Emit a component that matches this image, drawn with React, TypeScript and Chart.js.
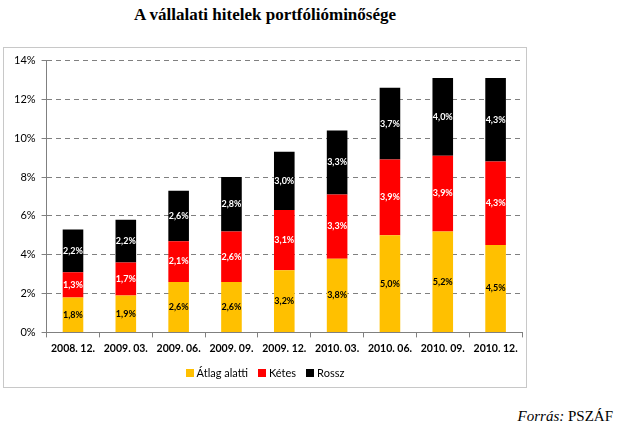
import React, { useEffect, useRef } from "react";
import { Chart, registerables } from "chart.js";

Chart.register(...registerables);

const categories = ["2008. 12.", "2009. 03.", "2009. 06.", "2009. 09.", "2009. 12.", "2010. 03.", "2010. 06.", "2010. 09.", "2010. 12."];
const atlagAlatti = [1.8, 1.9, 2.6, 2.6, 3.2, 3.8, 5.0, 5.2, 4.5];
const ketes = [1.3, 1.7, 2.1, 2.6, 3.1, 3.3, 3.9, 3.9, 4.3];
const rossz = [2.2, 2.2, 2.6, 2.8, 3.0, 3.3, 3.7, 4.0, 4.3];
const seriesNames = ["Átlag alatti", "Kétes", "Rossz"];
const seriesColors = ["#FFC000", "#FF0000", "#000000"];
const labelColors = ["#000000", "#FFFFFF", "#FFFFFF"];

const FONT = "Lato, 'Liberation Sans', sans-serif";

const segLabels = {
  id: "segLabels",
  afterDatasetsDraw(chart: any) {
    const ctx = chart.ctx;
    chart.data.datasets.forEach((ds: any, i: number) => {
      const meta = chart.getDatasetMeta(i);
      meta.data.forEach((el: any, j: number) => {
        const v = ds.data[j];
        const p = el.getProps(["x", "y", "base"], true);
        ctx.save();
        ctx.fillStyle = labelColors[i];
        ctx.font = `bold 9px ${FONT}`;
        ctx.textAlign = "center";
        ctx.textBaseline = "middle";
        ctx.fillText(v.toFixed(1).replace(".", ",") + "%", p.x, (p.y + p.base) / 2);
        ctx.restore();
      });
    });
  },
};

export default function App() {
  const ref = useRef<HTMLCanvasElement>(null);
  useEffect(() => {
    if (!ref.current) return;
    const chart = new Chart(ref.current, {
      type: "bar",
      data: {
        labels: categories,
        datasets: [atlagAlatti, ketes, rossz].map((d, i) => ({
          label: seriesNames[i],
          data: d,
          backgroundColor: seriesColors[i],
          borderWidth: 0,
          categoryPercentage: 1,
          barPercentage: 0.39,
        })),
      },
      options: {
        animation: false,
        responsive: false,
        maintainAspectRatio: false,
        layout: { padding: { left: 4, right: 4, top: 5, bottom: 27 } },
        plugins: {
          title: { display: false },
          tooltip: { enabled: false },
          legend: { display: false },
        },
        scales: {
          x: {
            stacked: true,
            grid: { display: true, drawOnChartArea: false, offset: true, color: "#808080", tickLength: 5 },
            border: { display: true, color: "#808080" },
            ticks: { color: "#000", font: { family: FONT, size: 10.5, weight: "bold" }, padding: 5, maxRotation: 0 },
          },
          y: {
            stacked: true,
            min: 0,
            max: 14,
            ticks: {
              stepSize: 2,
              color: "#000",
              font: { family: FONT, size: 11 },
              padding: 6,
              callback: (v: any) => v + "%",
            },
            grid: { color: "#808080", tickLength: 5 },
            border: { display: true, color: "#808080", dash: [5, 4] },
          },
        },
      },
      plugins: [segLabels],
    });
    return () => chart.destroy();
  }, []);

  return (
    <div style={{ position: "fixed", left: 0, top: 0, width: 620, height: 432, background: "#fff" }}>
      <div
        style={{
          position: "absolute",
          left: 0,
          top: 5,
          width: 530,
          textAlign: "center",
          fontFamily: "'Liberation Serif', 'Times New Roman', serif",
          fontWeight: "bold",
          fontSize: 17,
        }}
      >
        A vállalati hitelek portfólióminősége
      </div>
      <div
        style={{
          position: "absolute",
          left: 3,
          top: 47,
          width: 522,
          height: 339,
          border: "1px solid #c8c8c8",
        }}
      >
        <canvas ref={ref} width={522} height={339} style={{ display: "block" }} />
        <div
          style={{
            position: "absolute",
            left: 0,
            width: 522,
            top: 318,
            display: "flex",
            justifyContent: "center",
            gap: 10,
            fontFamily: FONT,
            fontSize: 11,
            lineHeight: "14px",
            color: "#000",
          }}
        >
          {seriesNames.map((n, i) => (
            <span key={n} style={{ display: "flex", alignItems: "center" }}>
              <span style={{ width: 8, height: 8, background: seriesColors[i], marginRight: 3, display: "inline-block" }} />
              {n}
            </span>
          ))}
        </div>
      </div>
      <div
        style={{
          position: "absolute",
          right: 7,
          top: 408,
          fontFamily: "'Liberation Serif', 'Times New Roman', serif",
          fontSize: 15,
        }}
      >
        <i>Forrás:</i> PSZÁF
      </div>
    </div>
  );
}
